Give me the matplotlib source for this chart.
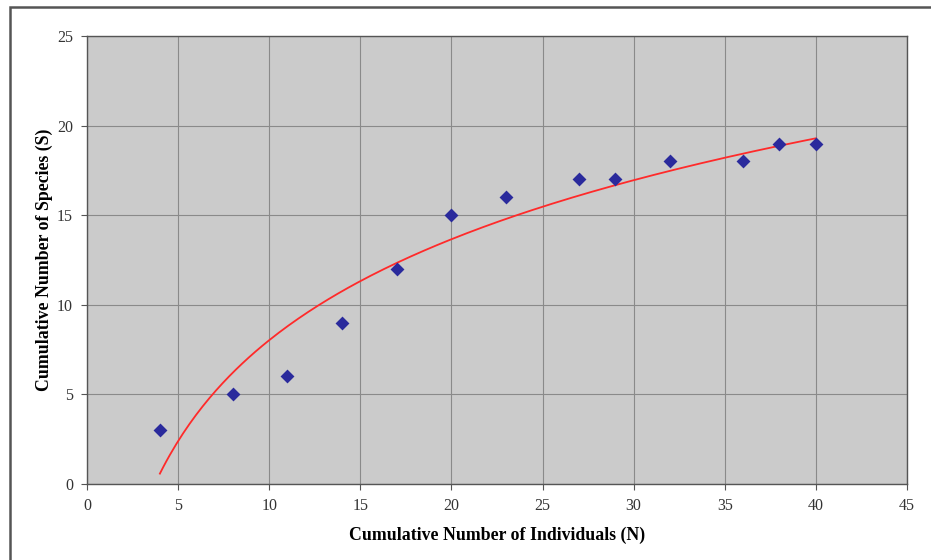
import numpy as np
import matplotlib
matplotlib.use("Agg")
import matplotlib.pyplot as plt
from matplotlib.patches import Rectangle

# du lieu doc tu hinh
ca_the = [4, 8, 11, 14, 17, 20, 23, 27, 29, 32, 36, 38, 40]
so_loai = [3, 5, 6, 9, 12, 15, 16, 17, 17, 18, 18, 19, 19]

plt.rcParams['font.family'] = ['Liberation Serif', 'DejaVu Serif']

# duong xu huong logarit (kieu Excel) tinh tu du lieu
a, b = np.polyfit(np.log(ca_the), so_loai, 1)
xx = np.linspace(min(ca_the), max(ca_the), 200)
yy = a * np.log(xx) + b

fig = plt.figure(figsize=(9.31, 5.6), dpi=100)
fig.patch.set_facecolor("white")
# khung ngoai
fig.patches.append(Rectangle((10 / 931, -0.1), 1.2, 1 - 7 / 560 + 0.1, transform=fig.transFigure,
                             fill=False, edgecolor="#555555", linewidth=1.8))

ax = fig.add_axes([87 / 931, 1 - 484 / 560, (907 - 87) / 931, (484 - 36) / 560])
ax.set_facecolor("#cbcbcb")
ax.plot(xx, yy, color="#ff2a2a", linewidth=1.3, zorder=2)
ax.scatter(ca_the, so_loai, marker="D", s=50, color="#2a2a9c", zorder=3, linewidths=0)

ax.set_xlim(0, 45)
ax.set_ylim(0, 25)
ax.set_xticks(range(0, 46, 5))
ax.set_yticks(range(0, 26, 5))
ax.grid(True, color="#8a8a8a", linewidth=0.8)
ax.set_axisbelow(True)
for s in ax.spines.values():
    s.set_color("#555555")
    s.set_linewidth(1.0)
ax.tick_params(direction="out", length=4, color="#555555", labelsize=11.5, labelcolor="#333333", pad=6)

ax.set_xlabel("Cumulative Number of Individuals (N)", fontsize=12.8, fontweight="bold", labelpad=9)
ax.set_ylabel("Cumulative Number of Species (S)", fontsize=12.8, fontweight="bold", labelpad=3)

fig.savefig("out.png", dpi=100)
